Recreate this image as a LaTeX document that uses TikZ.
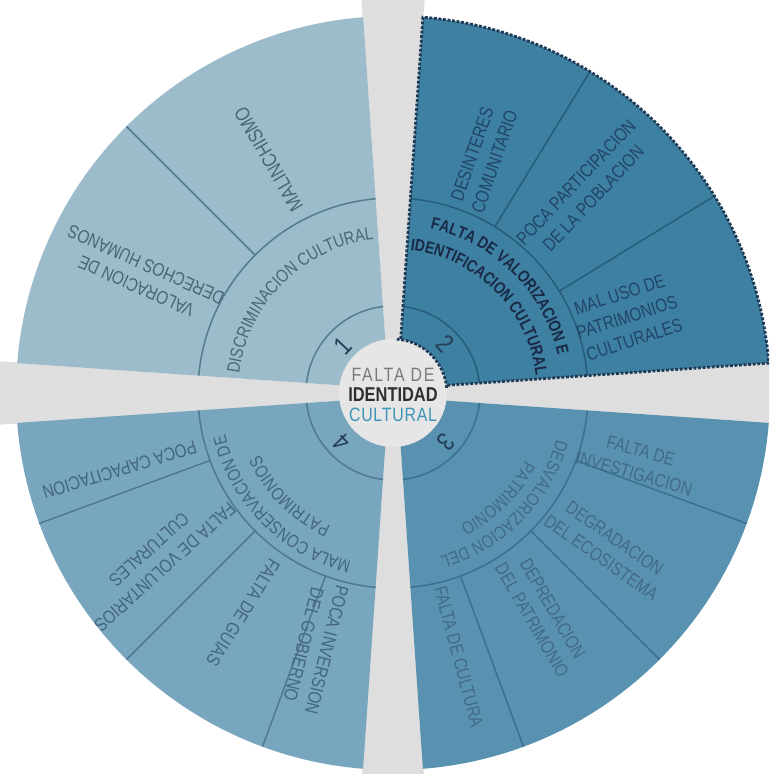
\documentclass[tikz,border=0pt]{standalone}
\usepackage{fontspec}
\setmainfont{Liberation Sans}[FakeStretch=0.82]
\usepackage{xcolor}
\usepackage{tikz}
\usetikzlibrary{decorations.text}

\definecolor{gapgray}{HTML}{DEDEDE}
\definecolor{centergray}{HTML}{E6E6E6}
\definecolor{quadone}{HTML}{9CBBCB}
\definecolor{quadtwo}{HTML}{3D80A2}
\definecolor{quadthree}{HTML}{5892B0}
\definecolor{quadfour}{HTML}{78A6BE}
\definecolor{lineone}{HTML}{557B8F}
\definecolor{linetwo}{HTML}{285C7B}
\definecolor{linethree}{HTML}{3A7090}
\definecolor{linefour}{HTML}{4F798F}
\definecolor{txtone}{HTML}{4B6676}
\definecolor{txttwo}{HTML}{21456A}
\definecolor{cattwo}{HTML}{1A2946}
\definecolor{txtthree}{HTML}{426A88}
\definecolor{txtfour}{HTML}{44667B}
\definecolor{numblue}{HTML}{253F58}
\definecolor{stampdark}{HTML}{1E3A55}
\definecolor{faltagray}{HTML}{7A7A7A}
\definecolor{identdark}{HTML}{2F2F2F}
\definecolor{cultblue}{HTML}{3D93B5}

% one quarter of the wheel, between the gaps at 0 and 90 degrees
\newcommand{\quadpath}{(4.3,4.3) -- (4.55:377) arc[start angle=4.55,end angle=85.45,radius=377] -- cycle}
\newcommand{\catfont}{\fontsize{10.2}{11}\selectfont}

\begin{document}
\begin{tikzpicture}[x=0.02cm,y=0.02cm,
    celltext/.style={font=\fontsize{10.6}{13.5}\selectfont,align=center,inner sep=0pt},
    numtext/.style={font=\fontsize{15}{15}\selectfont,inner sep=0pt,text=numblue},
    wheelline/.style={line width=0.85pt},
    stampline/.style={draw=stampdark,line width=1.6pt,densely dotted}]
	\useasboundingbox (-393,-381) rectangle (376,393);
	\clip (-393,-381) rectangle (376,393);

	% gaps between the quarters
	\foreach \g in {0,90,180,270}
	  \fill[gapgray,rotate=\g] (0,-4) -- (440,-35) -- (440,35) -- (0,4) -- cycle;

	% quarter 1
	\begin{scope}[rotate=90]
	  \fill[quadone] \quadpath;
	  \clip \quadpath;
	  \draw[wheelline,lineone] (0,0) circle[radius=87] (0,0) circle[radius=195];
	  \draw[wheelline,lineone] (45:195) -- (45:400);
	\end{scope}

	% quarter 2
	\begin{scope}
	  \fill[quadtwo] \quadpath;
	  \clip \quadpath;
	  \draw[wheelline,linetwo] (0,0) circle[radius=87] (0,0) circle[radius=195];
	  \foreach \a in {31.5,58.5}
	    \draw[wheelline,linetwo] (\a:195) -- (\a:400);
	\end{scope}
	\draw[stampline] \quadpath;

	% quarter 3
	\begin{scope}[rotate=-90]
	  \fill[quadthree] \quadpath;
	  \clip \quadpath;
	  \draw[wheelline,linethree] (0,0) circle[radius=87] (0,0) circle[radius=195];
	  \foreach \a in {20.25,45,69.75}
	    \draw[wheelline,linethree] (\a:195) -- (\a:400);
	\end{scope}

	% quarter 4
	\begin{scope}[rotate=180]
	  \fill[quadfour] \quadpath;
	  \clip \quadpath;
	  \draw[wheelline,linefour] (0,0) circle[radius=87] (0,0) circle[radius=195];
	  \foreach \a in {20.25,45,69.75}
	    \draw[wheelline,linefour] (\a:195) -- (\a:400);
	\end{scope}

	% centre
	\fill[centergray] (0,0) circle[radius=54];
	\draw[stampline] (86:54) arc[start angle=86,end angle=4,radius=54];
	\node[font=\fontsize{11}{11}\selectfont\addfontfeature{LetterSpace=9},text=faltagray] (falta) at (0,18) {FALTA DE};
	\node[font=\fontsize{11.4}{11}\selectfont\bfseries,text=identdark] (ident) at (0,-2) {IDENTIDAD};
	\node[font=\fontsize{11}{11}\selectfont\addfontfeature{LetterSpace=4},text=cultblue] (cult) at (0,-22) {CULTURAL};

	% numbers
	\node[numtext,rotate=47] (n1) at (137:69) {1};
	\node[numtext,rotate=-47] (n2) at (43:72) {2};
	\node[numtext,rotate=-133] (n3) at (-43:72) {3};
	\node[numtext,rotate=134] (n4) at (224:71) {4};

	% middle ring
	\path[decorate,decoration={text along path,text align=center,
	  text={|\catfont\color{txtone}|DISCRIMINACION CULTURAL}}]
	  (175.5:155) arc[start angle=175.5,end angle=94.5,radius=155];
	\path[decorate,decoration={text along path,text align=center,
	  text={|\fontsize{9.6}{11}\selectfont\bfseries\color{cattwo}|FALTA DE VALORIZACION E}}]
	  (85.5:169) arc[start angle=85.5,end angle=4.5,radius=169];
	\path[decorate,decoration={text along path,text align=center,
	  text={|\fontsize{9.6}{11}\selectfont\bfseries\color{cattwo}|IDENTIFICACION CULTURAL}}]
	  (85.5:144) arc[start angle=85.5,end angle=4.5,radius=144];
	\path[decorate,decoration={text along path,text align=center,
	  text={|\catfont\color{txtthree}|DESVALORIZACION DEL}}]
	  (-4.5:170) arc[start angle=-4.5,end angle=-85.5,radius=170];
	\path[decorate,decoration={text along path,text align=center,
	  text={|\catfont\color{txtthree}|PATRIMONIO}}]
	  (-4.5:148) arc[start angle=-4.5,end angle=-85.5,radius=148];
	\path[decorate,decoration={text along path,text align=center,
	  text={|\catfont\color{txtfour}|MALA CONSERVACION DE}}]
	  (265.5:173) arc[start angle=265.5,end angle=184.5,radius=173];
	\path[decorate,decoration={text along path,text align=center,
	  text={|\catfont\color{txtfour}|PATRIMONIOS}}]
	  (265.5:147) arc[start angle=265.5,end angle=184.5,radius=147];

	% outer ring
	\node[celltext,text=txtone,font=\fontsize{11.5}{13}\selectfont,rotate=120] (malin) at (118:265) {MALINCHISMO};
	\node[celltext,text=txtone,rotate=156] (valor) at (155:278) {VALORACION DE\\DERECHOS HUMANOS};
	\node[celltext,text=txttwo,rotate=71] (desint) at (69:252) {DESINTERES\\COMUNITARIO};
	\node[celltext,text=txttwo,rotate=46.6] (poca) at (46.6:279) {POCA PARTICIPACION\\DE LA POBLACION};
	\node[celltext,text=txttwo,rotate=18] (maluso) at (18:246) {MAL USO DE\\PATRIMONIOS\\CULTURALES};
	\node[celltext,text=txtthree,rotate=-16] (invest) at (-15.8:254) {FALTA DE\\INVESTIGACION};
	\node[celltext,text=txtthree,rotate=-35] (degrad) at (-35.8:265) {DEGRADACION\\DEL ECOSISTEMA};
	\node[celltext,text=txtthree,rotate=-60] (depred) at (-56:267) {DEPREDACION\\DEL PATRIMONIO};
	\node[celltext,text=txtthree,rotate=-75] (cultura) at (-76:272) {FALTA DE CULTURA};
	\node[celltext,text=txtfour,rotate=197] (capac) at (195.7:284) {POCA CAPACITACION};
	\node[celltext,text=txtfour,rotate=222] (volunt) at (215:288) {FALTA DE VOLUNTARIOS\\CULTURALES};
	\node[celltext,text=txtfour,rotate=238] (guias) at (235.7:266) {FALTA DE GUIAS};
	\node[celltext,text=txtfour,rotate=256] (invers) at (253:266) {POCA INVERSION\\DEL GOBIERNO};
\end{tikzpicture}
\end{document}
